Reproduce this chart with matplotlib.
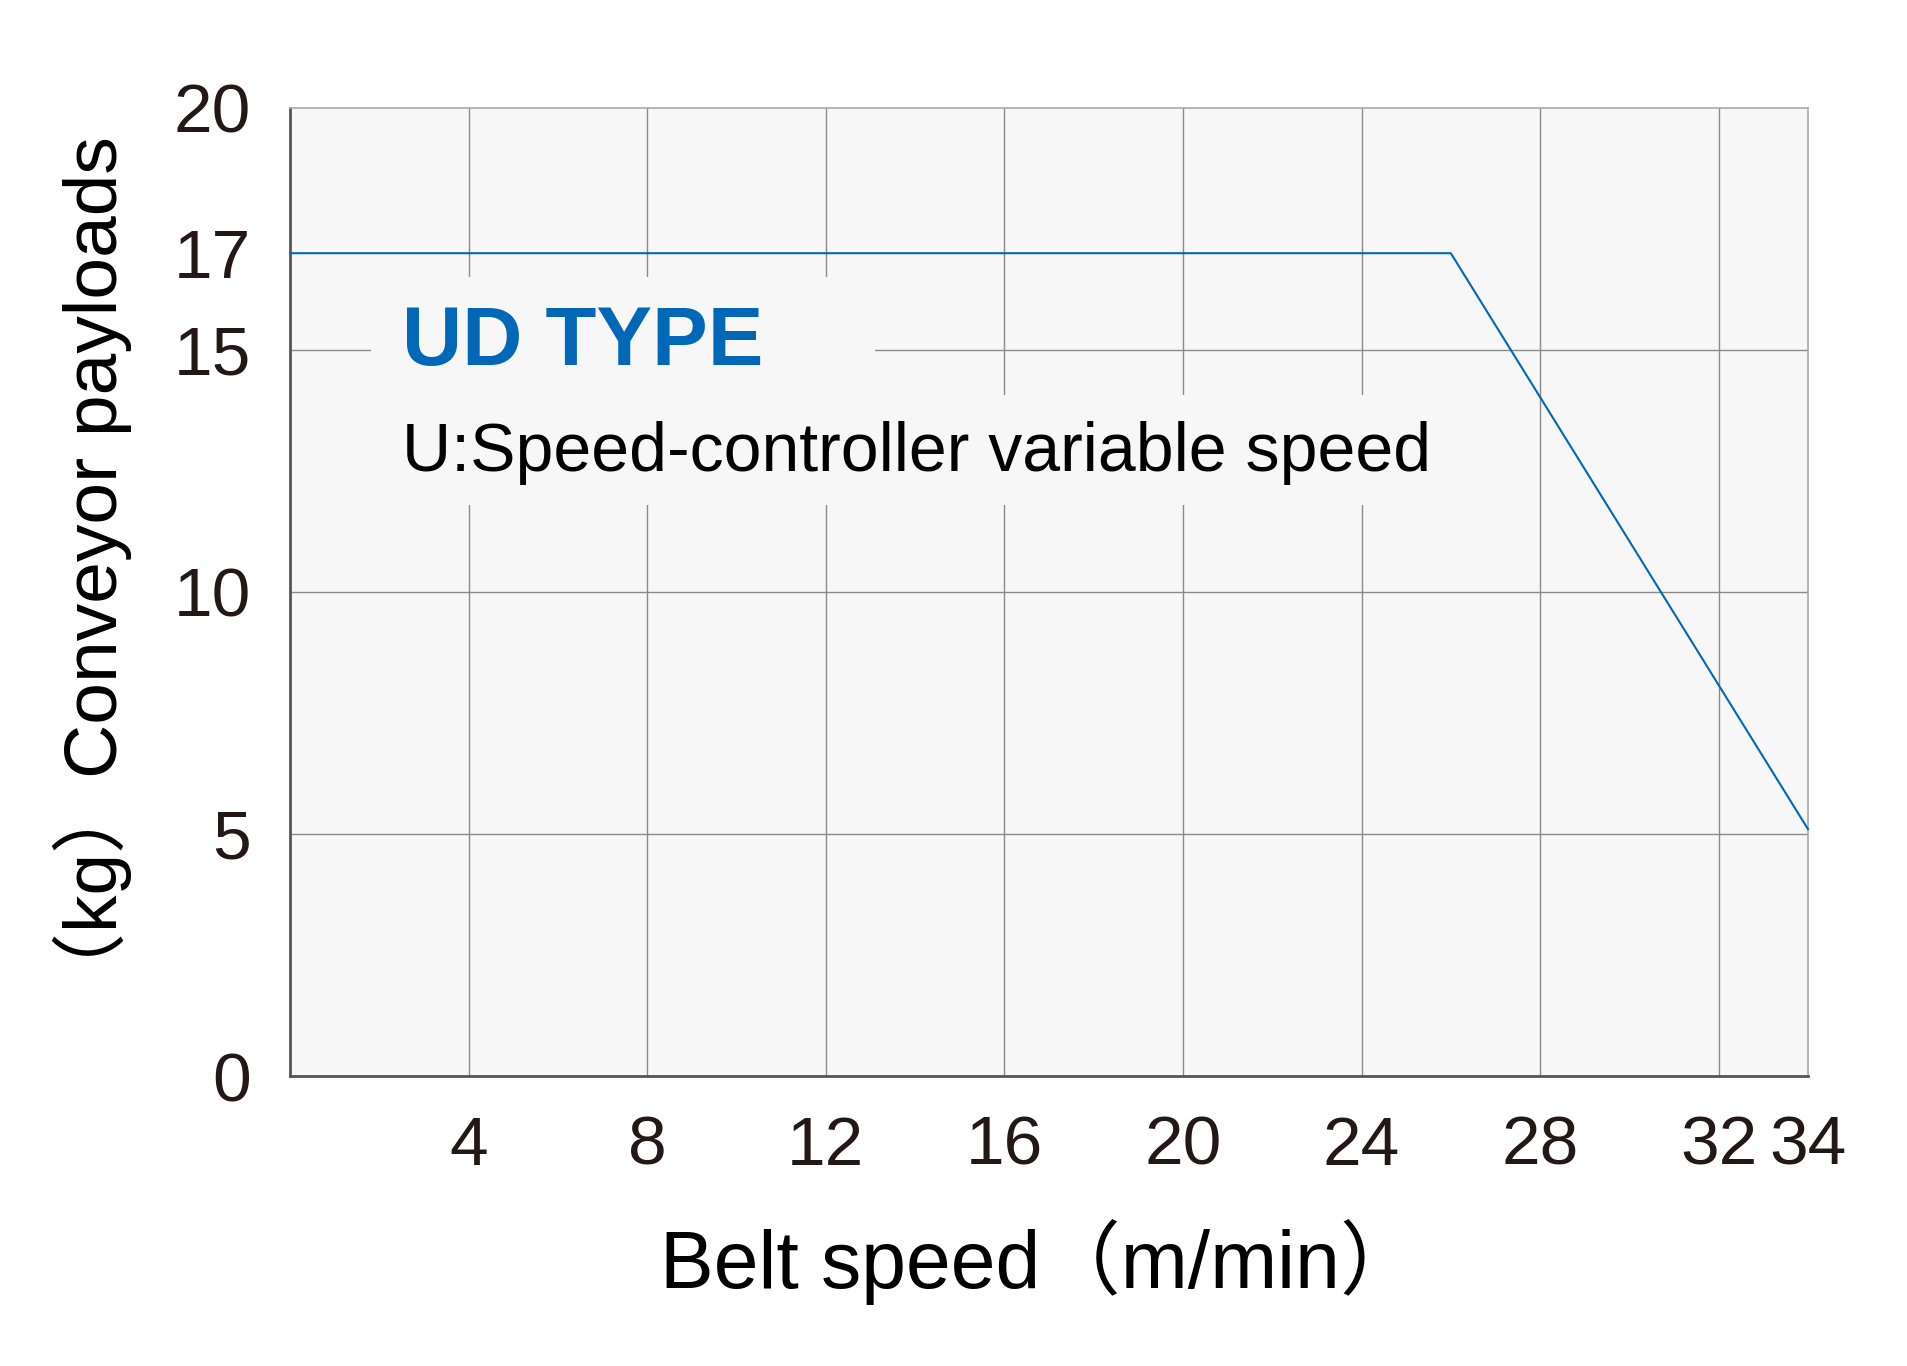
import matplotlib.pyplot as plt
from matplotlib.patches import Rectangle

# belt speed (m/min) vs conveyor payload (kg)
speed = [0, 26, 34]
payload = [17, 17, 5.1]

x_ticks = [4, 8, 12, 16, 20, 24, 28, 32, 34]
y_ticks = [0, 5, 10, 15, 17, 20]
x_grid = [4, 8, 12, 16, 20, 24, 28, 32]
y_grid = [5, 10, 15]

BLUE = "#0068b7"
BG = "#f7f7f7"
GRID = "#8a8a8a"
TXT = "#231815"

latin = ["Liberation Sans", "Noto Sans CJK JP", "DejaVu Sans"]

fig = plt.figure(figsize=(19.08, 13.66), dpi=100)
W, H = 1908, 1366
ax = fig.add_axes([290 / W, 1 - 1076 / H, (1808 - 290) / W, (1076 - 108) / H])
ax.set_facecolor(BG)
ax.set_xlim(0, 34)
ax.set_ylim(0, 20)

for x in x_grid:
    ax.axvline(x, color=GRID, lw=1.0, zorder=1)
for y in y_grid:
    ax.axhline(y, color=GRID, lw=1.0, zorder=1)

# patches that hide the grid behind the annotation text
ax.add_patch(Rectangle((1.81, 14.07), 13.1 - 1.81, 16.5 - 14.07,
                       facecolor=BG, edgecolor="none", zorder=2))
ax.add_patch(Rectangle((2.24, 11.8), 25.9 - 2.24, 14.07 - 11.8,
                       facecolor=BG, edgecolor="none", zorder=2))

ax.plot(speed, payload, color=BLUE, lw=1.5, zorder=4, clip_on=False)

ax.text(2.5, 14.7, "UD TYPE", color=BLUE, fontsize=60, fontweight="bold",
        family=latin, zorder=3)
ax.text(2.5, 12.5, "U:Speed-controller variable speed", color="black",
        fontsize=49, family=latin, zorder=3)

for side in ["left", "bottom"]:
    ax.spines[side].set_color("#555555")
    ax.spines[side].set_linewidth(2.0)
for side in ["top", "right"]:
    ax.spines[side].set_color("#aaaaaa")
    ax.spines[side].set_linewidth(1.2)

ax.set_xticks(x_ticks)
ax.set_xticklabels([str(v) for v in x_ticks], fontsize=50, family=latin, color=TXT)
ax.set_yticks(y_ticks)
ax.set_yticklabels([str(v) for v in y_ticks], fontsize=50, family=latin, color=TXT)
ax.tick_params(axis="x", length=0, pad=28)
ax.tick_params(axis="y", length=0, pad=28)

fig.text(1040 / W, 1 - 1262 / H, "Belt speed（m/min）", fontsize=58, family=latin,
         color="black", ha="center", va="center")
fig.text(92 / W, 1 - 572 / H, "（kg）Conveyor payloads", fontsize=54, family=latin,
         color="black", ha="center", va="center", rotation=90)

fig.savefig("out.png", dpi=100)
